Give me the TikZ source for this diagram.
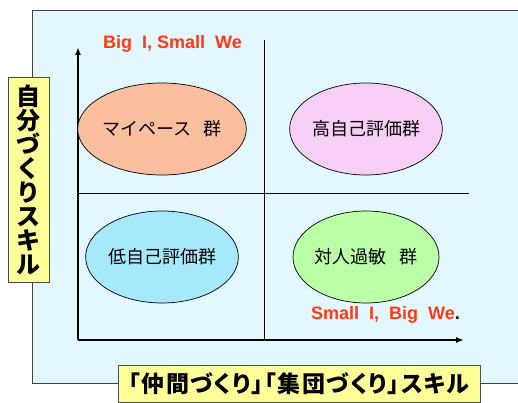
\documentclass[tikz,border=0pt]{standalone}
\usepackage{fontspec}
\setmainfont{Liberation Sans}
\newfontfamily\jp{Noto Sans CJK JP}
\newfontfamily\jpp{Noto Sans CJK JP}[RawFeature={+palt}, LetterSpace=6]
\usetikzlibrary{shapes.geometric,arrows.meta}
\definecolor{bgcyan}{HTML}{E2F8FE}
\definecolor{labyellow}{HTML}{FFFF99}
\definecolor{csalmon}{HTML}{FBBF9F}
\definecolor{cpink}{HTML}{F7CEF6}
\definecolor{ccyan}{HTML}{A6E9FA}
\definecolor{cgreen}{HTML}{BBFFA6}
\definecolor{redtxt}{HTML}{FF3A12}
\tikzset{
  grp/.style={ellipse, draw=black, line width=0.7pt, inner sep=0pt,
    minimum width=146pt, minimum height=92pt,
    font=\jp\fontsize{18}{18}\selectfont},
  lab/.style={draw=black!70, line width=0.7pt, fill=labyellow, inner sep=0pt,
    font=\jp\bfseries},
  redlab/.style={text=redtxt, font=\bfseries\fontsize{18}{18}\selectfont,
    inner sep=0pt, anchor=west},
  axis/.style={line width=1.6pt, -{Latex[length=8pt,width=6pt]}},
  midline/.style={line width=0.8pt}
}
\begin{document}
\begin{tikzpicture}[x=1pt,y=-1pt]
\useasboundingbox (0,0) rectangle (518,403);
% background panel
\draw[fill=bgcyan, draw=black!75, line width=0.7pt] (32,10) rectangle (530,383);
% quadrant lines
\coordinate (vtop) at (264,40);
\coordinate (vbot) at (264,340);
\coordinate (hleft) at (78,193);
\coordinate (hright) at (469,193);
\draw[midline] (vtop) -- (vbot);
\draw[midline] (hleft) -- (hright);
% axes
\coordinate (o) at (78,340);
\coordinate (ytip) at (78,47);
\coordinate (xtip) at (464,340);
\draw[axis] (o) -- (ytip);
\draw[axis] (o) -- (xtip);
% groups
\node[grp, fill=csalmon] (mp) at (162,129) {マイペース\ \ \ 群};
\node[grp, fill=cpink] (hi) at (366,129) {高自己評価群};
\node[grp, fill=ccyan] (lo) at (162,257) {低自己評価群};
\node[grp, fill=cgreen] (ts) at (366,257) {対人過敏\ \ \ 群};
% red labels
\node[redlab] (biw) at (103,44) {Big\ \ I, Small\ \ We};
\node[redlab] (sib) at (311,315) {Small\ \ I,\ \ Big\ \ We\textcolor{black}{.}};
% axis labels
\node[lab, minimum width=41pt, minimum height=205pt, align=center,
  font=\jp\bfseries\fontsize{24}{24}\selectfont] (vl) at (28.5,179.5)
  {自\\分\\づ\\く\\り\\ス\\キ\\ル};
\node[lab, minimum width=362pt, minimum height=37pt,
  font=\jpp\bfseries\fontsize{23}{23}\selectfont] (hl) at (299,383.5)
  {「仲間づくり」「集団づくり」スキル};
\end{tikzpicture}
\end{document}
